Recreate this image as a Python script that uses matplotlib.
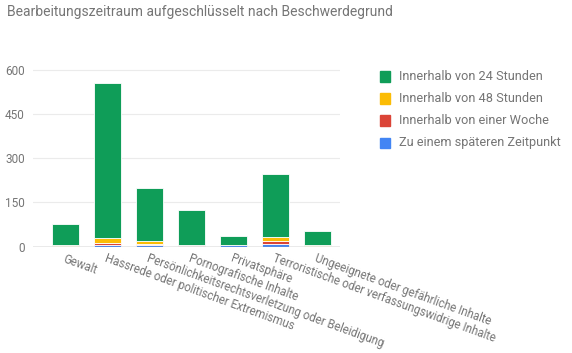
import numpy as np
import matplotlib.pyplot as plt

categories = ["Gewalt", "Hassrede oder politischer Extremismus",
              "Persönlichkeitsrechtsverletzung oder Beleidigung",
              "Pornografische Inhalte", "Privatsphäre",
              "Terroristische oder verfassungswidrige Inhalte",
              "Ungeeignete oder gefährliche Inhalte"]
series_names = ["Innerhalb von 24 Stunden", "Innerhalb von 48 Stunden",
                "Innerhalb von einer Woche", "Zu einem späteren Zeitpunkt"]
h24 = [73, 526, 180, 118, 31, 213, 48]
h48 = [3, 14, 9, 1, 0, 13, 1]
week = [1, 7, 2, 4, 0, 12, 3]
later = [1, 7, 7, 1, 5, 9, 1]
yticks = [0, 150, 300, 450, 600]

colors = ["#0f9d58", "#fbbc05", "#db4437", "#4285f4"]
grey = "#757575"

plt.rcParams['font.family'] = ['Roboto', 'DejaVu Sans']

fig = plt.figure(figsize=(5.72, 3.53), dpi=100)
ax = fig.add_axes([33/572, 1 - 246.7/353, 307/572, (246.7 - 64)/353])

x = np.arange(len(categories))
stack = [later, week, h48, h24]
stack_colors = [colors[3], colors[2], colors[1], colors[0]]
bottom = np.zeros(len(categories))
for vals, c in zip(stack, stack_colors):
    ax.bar(x, vals, 0.64, bottom=bottom, color=c, edgecolor="white", linewidth=0.6, zorder=3)
    bottom += np.array(vals)

ax.set_xlim(-0.78, 6.53)
ax.set_ylim(0, 620)
ax.set_yticks(yticks)
ax.set_yticklabels([str(v) for v in yticks], color=grey, fontsize=8.5)
ax.grid(axis="y", color="#ebebeb", linewidth=0.8, zorder=0)
ax.axhline(0, color="#9e9e9e", linewidth=1, zorder=4)
ax.tick_params(axis="y", length=0, pad=6)
ax.tick_params(axis="x", length=0, pad=4)
for s in ax.spines.values():
    s.set_visible(False)
ax.set_xticks(x)
ax.set_xticklabels(categories, rotation=-20, ha="left", rotation_mode="anchor",
                   color=grey, fontsize=8.3)

fig.text(7/572, 1 - 12/353, "Bearbeitungszeitraum aufgeschlüsselt nach Beschwerdegrund",
         color=grey, fontsize=10, va="center", ha="left")

for i, (name, c) in enumerate(zip(series_names, colors)):
    yy = 1 - (76.5 + 22 * i) / 353
    fig.patches.append(plt.Rectangle((380/572, yy - 5/353), 10/572, 10/353,
                                     transform=fig.transFigure, color=c, figure=fig))
    fig.text(399/572, yy, name, color=grey, fontsize=9.2, va="center", ha="left")

fig.savefig("out.png", dpi=100)
